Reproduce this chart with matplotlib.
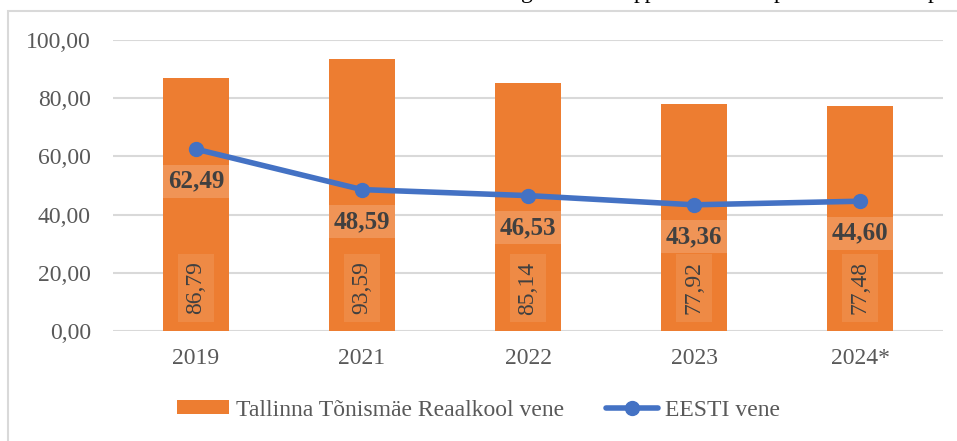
import matplotlib.pyplot as plt
from matplotlib.patches import Rectangle
import numpy as np

years = ['2019', '2021', '2022', '2023', '2024*']
school = [86.79, 93.59, 85.14, 77.92, 77.48]
eesti = [62.49, 48.59, 46.53, 43.36, 44.60]

def fmt(v):
    return f'{v:.2f}'.replace('.', ',')

plt.rcParams['font.family'] = ['Liberation Serif', 'DejaVu Serif']

fig = plt.figure(figsize=(9.57, 4.41), dpi=100)
W, H = 957, 441

# chart frame (runs off the right and bottom edges)
fig.patches.append(Rectangle((8 / W, -0.1), 1.1, 1 - 11 / H + 0.1,
                             transform=fig.transFigure, fill=False,
                             edgecolor='#d9d9d9', linewidth=1.5))

# descenders of the cropped text line above the chart
for xp, s in [(527, 'g'), (645, 'pp'), (780, 'p'), (933, 'p')]:
    fig.text(xp / W, 1 + 2 / H, s, fontsize=17, color='black',
             ha='center', va='baseline')

ax = fig.add_axes([113 / W, 1 - 331 / H, 830 / W, 291 / H])
x = np.arange(len(years))

bars = ax.bar(x, school, width=0.4, color='#ED7D31', zorder=2,
              label='Tallinna Tõnismäe Reaalkool vene')
line, = ax.plot(x, eesti, color='#4472C4', linewidth=4, marker='o',
                markersize=10, zorder=3, label='EESTI vene',
                solid_capstyle='round')

for xi, v in zip(x, school):
    ax.annotate(fmt(v), (xi, 0), xytext=(0, 43), textcoords='offset pixels',
                rotation=90, ha='center', va='center', fontsize=17,
                color='#404040', zorder=4,
                bbox=dict(boxstyle='square,pad=0.3', facecolor='white',
                          alpha=0.1, edgecolor='none'))

for xi, v in zip(x, eesti):
    ax.annotate(fmt(v), (xi, v), xytext=(0, -32), textcoords='offset pixels',
                ha='center', va='center', fontsize=18, fontweight='bold',
                color='#404040', zorder=4,
                bbox=dict(boxstyle='square,pad=0.2', facecolor='white',
                          alpha=0.18, edgecolor='none'))

ax.set_xlim(-0.5, len(years) - 0.5)
ax.set_ylim(0, 100)
ax.set_yticks(np.arange(0, 101, 20))
ax.set_yticklabels([fmt(t) for t in np.arange(0, 101, 20)])
ax.set_xticks(x)
ax.set_xticklabels(years)
ax.tick_params(axis='both', length=0, labelsize=17, colors='#595959')
ax.tick_params(axis='y', pad=16)
ax.tick_params(axis='x', pad=12)
ax.grid(axis='y', color='#d9d9d9', linewidth=1.5, zorder=0)
for sp in ax.spines.values():
    sp.set_visible(False)

leg = fig.legend([bars, line], [bars.get_label(), line.get_label()],
                 loc='center', bbox_to_anchor=(0.5, 1 - 410 / H), ncol=2,
                 frameon=False, fontsize=17, handlelength=2.2,
                 handleheight=0.5, columnspacing=1.8, handletextpad=0.3)
for t in leg.get_texts():
    t.set_color('#595959')

fig.savefig('out.png', dpi=100)
